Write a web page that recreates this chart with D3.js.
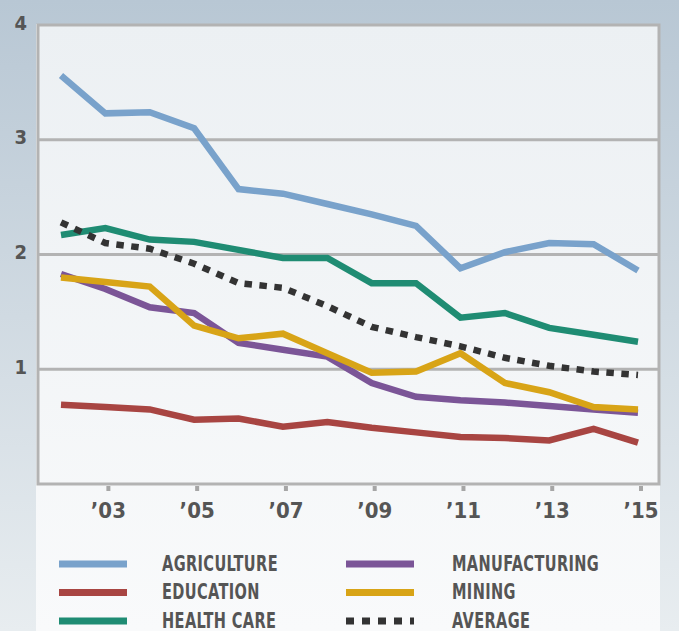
<!DOCTYPE html>
<html>
<head>
<meta charset="utf-8">
<script src="https://cdn.jsdelivr.net/npm/d3@7"></script>
<style>
  body { margin: 0; background: #fff; }
  svg { display: block; }
  text { font-family: "Liberation Sans Narrow", "DejaVu Sans Condensed", sans-serif; font-weight: bold; fill: #555; }
</style>
</head>
<body>
<svg width="679" height="631"></svg>
<script>
let years = [2002, 2003, 2004, 2005, 2006, 2007, 2008, 2009, 2010, 2011, 2012, 2013, 2014, 2015];
let agriculture   = [3.56, 3.23, 3.24, 3.10, 2.57, 2.53, 2.44, 2.35, 2.25, 1.88, 2.02, 2.10, 2.09, 1.86];
let education     = [0.69, 0.67, 0.65, 0.56, 0.57, 0.50, 0.54, 0.49, 0.45, 0.41, 0.40, 0.38, 0.48, 0.36];
let healthCare    = [2.17, 2.23, 2.13, 2.11, 2.04, 1.97, 1.97, 1.75, 1.75, 1.45, 1.49, 1.36, 1.30, 1.24];
let manufacturing = [1.83, 1.70, 1.54, 1.49, 1.23, 1.17, 1.11, 0.88, 0.76, 0.73, 0.71, 0.68, 0.65, 0.62];
let mining        = [1.80, 1.76, 1.72, 1.38, 1.27, 1.31, 1.14, 0.97, 0.98, 1.14, 0.88, 0.80, 0.67, 0.65];
let average       = [2.28, 2.10, 2.05, 1.92, 1.75, 1.71, 1.55, 1.37, 1.28, 1.20, 1.10, 1.03, 0.98, 0.95];
let yTicks = [1, 2, 3, 4];
let xTicks = [2003, 2005, 2007, 2009, 2011, 2013, 2015];

let series = [
  {name: "AGRICULTURE", values: agriculture, color: "#79a2cb"},
  {name: "EDUCATION", values: education, color: "#a84542"},
  {name: "HEALTH CARE", values: healthCare, color: "#1f8c73"},
  {name: "MANUFACTURING", values: manufacturing, color: "#7b5597"},
  {name: "MINING", values: mining, color: "#d8a417"},
  {name: "AVERAGE", values: average, color: "#333", dash: "7.5,7.5"}
];

let svg = d3.select("svg"),
    width = +svg.attr("width"),
    height = +svg.attr("height"),
    box = {left: 38, right: 659, top: 25, bottom: 484};

let x = d3.scaleLinear().domain([2002, 2015]).range([61, 638]),
    y = d3.scaleLinear().domain([0, 4]).range([box.bottom, box.top]);

let defs = svg.append("defs");
let bg = defs.append("linearGradient").attr("id", "bg").attr("x1", 0).attr("y1", 0).attr("x2", 0).attr("y2", 1);
bg.append("stop").attr("offset", "0%").attr("stop-color", "#b8c7d4");
bg.append("stop").attr("offset", "100%").attr("stop-color", "#e8edf0");
let panel = defs.append("linearGradient").attr("id", "panel").attr("x1", 0).attr("y1", 0).attr("x2", 0).attr("y2", 1);
panel.append("stop").attr("offset", "0%").attr("stop-color", "#ecf0f3");
panel.append("stop").attr("offset", "100%").attr("stop-color", "#f9fafb");

svg.append("rect").attr("width", width).attr("height", height).attr("fill", "url(#bg)");
svg.append("rect").attr("x", box.left - 2).attr("y", box.top - 1)
  .attr("width", box.right - box.left + 3).attr("height", height - box.top + 1)
  .attr("fill", "url(#panel)");

// gridlines
svg.append("g").selectAll("line").data(yTicks.slice(0, 3)).enter().append("line")
  .attr("x1", box.left).attr("x2", box.right)
  .attr("y1", d => y(d)).attr("y2", d => y(d))
  .attr("stroke", "#b3b3b3").attr("stroke-width", 3);

svg.append("rect").attr("x", box.left).attr("y", box.top)
  .attr("width", box.right - box.left).attr("height", box.bottom - box.top)
  .attr("fill", "none").attr("stroke", "#b3b3b3").attr("stroke-width", 3);

// y labels
svg.append("g").selectAll("text").data(yTicks).enter().append("text")
  .attr("x", 27).attr("y", d => y(d) + 4.5)
  .attr("text-anchor", "end").attr("font-size", 20)
  .text(d => d);

// x ticks + labels
let xa = svg.append("g").attr("transform", "translate(3,0)");
xa.selectAll("rect").data(xTicks).enter().append("rect")
  .attr("x", d => x(d) - 2).attr("y", 486).attr("width", 4).attr("height", 5)
  .attr("fill", "#a6a6a6");
xa.selectAll("text").data(xTicks).enter().append("text")
  .attr("x", d => x(d)).attr("y", 518)
  .attr("text-anchor", "middle").attr("font-size", 22)
  .text(d => "\u2019" + String(d).slice(2));

// lines
let line = d3.line().x((d, i) => x(years[i])).y(d => y(d));
svg.append("g").selectAll("path").data(series).enter().append("path")
  .attr("d", d => line(d.values))
  .attr("fill", "none")
  .attr("stroke", d => d.color)
  .attr("stroke-width", 6.5)
  .attr("stroke-linejoin", "miter")
  .attr("stroke-dasharray", d => d.dash || null);

// legend
let legend = svg.append("g").selectAll("g").data(series).enter().append("g")
  .attr("transform", (d, i) => "translate(" + (i < 3 ? 59 : 346) + "," + (564 + (i % 3) * 28.5) + ")");
legend.append("line").attr("x1", 0).attr("x2", 68)
  .attr("stroke", d => d.color).attr("stroke-width", 7)
  .attr("stroke-dasharray", d => d.dash ? "8,8" : null);
// condensed caps, squeezed horizontally like the original typeface
legend.append("text")
  .attr("transform", (d, i) => "translate(" + (i < 3 ? 103 : 106) + ",6.5) scale(0.77,1)")
  .attr("font-size", 21)
  .attr("letter-spacing", 0.5)
  .text(d => d.name);
</script>
</body>
</html>
